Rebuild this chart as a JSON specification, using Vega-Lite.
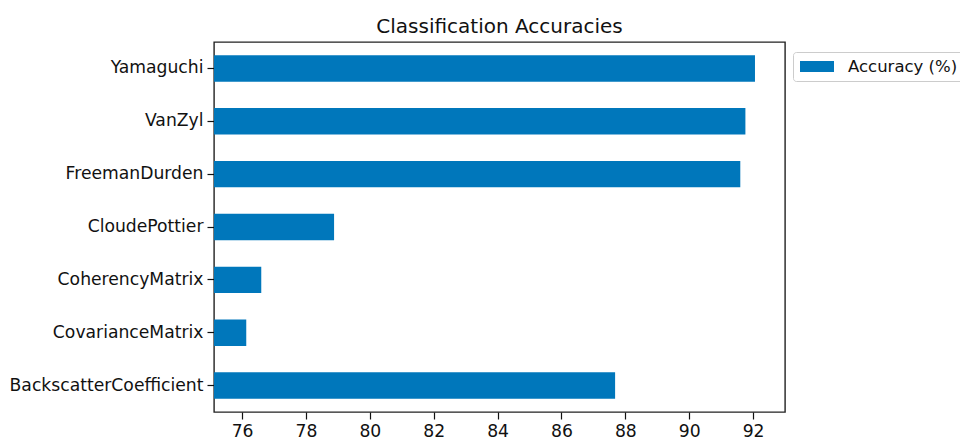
{
  "$schema": "https://vega.github.io/schema/vega-lite/v6.json",
  "autosize": {"type": "none"},
  "padding": {"left": 214, "top": 42, "right": 175, "bottom": 27},
  "width": 571,
  "height": 370,
  "background": "white",
  "config": {
    "font": "DejaVu Sans",
    "view": {"stroke": "#222222", "strokeWidth": 1.4}
  },
  "title": {
    "text": "Classification Accuracies",
    "fontSize": 20,
    "fontWeight": "normal",
    "color": "#111111",
    "anchor": "middle",
    "baseline": "alphabetic",
    "offset": 9,
    "dy": 20
  },
  "data": {
    "values": [
      {"method": "Yamaguchi", "accuracy": 92.06, "series": "Accuracy (%)"},
      {"method": "VanZyl", "accuracy": 91.76, "series": "Accuracy (%)"},
      {"method": "FreemanDurden", "accuracy": 91.6, "series": "Accuracy (%)"},
      {"method": "CloudePottier", "accuracy": 78.88, "series": "Accuracy (%)"},
      {"method": "CoherencyMatrix", "accuracy": 76.6, "series": "Accuracy (%)"},
      {"method": "CovarianceMatrix", "accuracy": 76.13, "series": "Accuracy (%)"},
      {"method": "BackscatterCoefficient", "accuracy": 87.68, "series": "Accuracy (%)"}
    ]
  },
  "mark": {"type": "bar", "clip": true},
  "encoding": {
    "y": {
      "field": "method",
      "type": "nominal",
      "sort": null,
      "scale": {"paddingInner": 0.5, "paddingOuter": 0.25},
      "axis": {
        "title": null,
        "domain": false,
        "ticks": true,
        "tickSize": 7,
        "tickColor": "#111111",
        "tickWidth": 1.2,
        "labelPadding": 4,
        "labelFontSize": 17.2,
        "labelColor": "#111111",
        "labelLimit": 400
      }
    },
    "x": {
      "field": "accuracy",
      "type": "quantitative",
      "scale": {"domain": [75.12, 93.0], "zero": false, "nice": false},
      "axis": {
        "title": null,
        "domain": false,
        "grid": false,
        "values": [76, 78, 80, 82, 84, 86, 88, 90, 92],
        "tickSize": 7,
        "tickColor": "#111111",
        "tickWidth": 1.2,
        "labelPadding": 3,
        "labelFontSize": 17.2,
        "labelColor": "#111111",
        "labelFlush": false
      }
    },
    "color": {
      "field": "series",
      "type": "nominal",
      "scale": {"range": ["#0077bb"]},
      "legend": {
        "title": null,
        "orient": "none",
        "legendX": 579,
        "legendY": 10,
        "symbolType": "M-2,-0.64H2V0.64H-2Z",
        "symbolSize": 289,
        "symbolStrokeWidth": 0,
        "symbolOffset": 9.5,
        "labelFontSize": 16.5,
        "labelColor": "#111111",
        "labelOffset": 22.5,
        "strokeColor": "#cccccc",
        "fillColor": "white",
        "cornerRadius": 3,
        "padding": 6
      }
    }
  }
}
